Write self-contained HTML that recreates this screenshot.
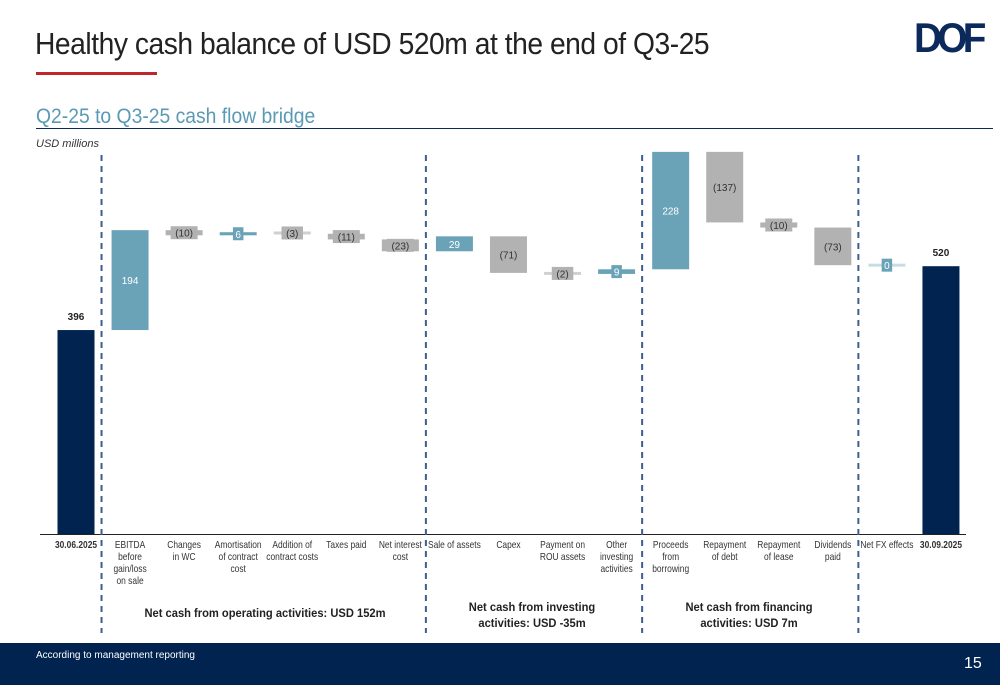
<!DOCTYPE html>
<html><head><meta charset="utf-8"><style>
body{margin:0;width:1000px;height:685px;background:#fff;overflow:hidden;font-family:"Liberation Sans",Arial,sans-serif;position:relative}
.t{position:absolute}
</style></head><body>
<div class="t" style="left:35px;top:26px;font-size:31px;color:#222;letter-spacing:-0.5px;transform:scaleX(0.91);transform-origin:left">Healthy cash balance of USD 520m at the end of Q3-25</div>
<div class="t" style="left:36px;top:72px;width:121px;height:3px;background:#c0272d"></div>
<div class="t" style="left:914px;top:14px;font-size:42px;font-weight:bold;color:#0b2a5b;letter-spacing:-5px;transform:scaleX(0.92);transform-origin:left">DOF</div>
<div class="t" style="left:36px;top:105px;font-size:21px;color:#5a9ab5;transform:scaleX(0.92);transform-origin:left">Q2-25 to Q3-25 cash flow bridge</div>
<div class="t" style="left:36px;top:128px;width:957px;height:1px;background:#0b2a5b"></div>
<div class="t" style="left:36px;top:138px;font-size:11px;font-style:italic;color:#333">USD millions</div>
<svg class="t" style="left:0;top:0" width="1000" height="685" id="chart"></svg>
<div class="t" style="left:0;top:643px;width:1000px;height:42px;background:#00234f"></div>
<div class="t" style="left:36px;top:650px;font-size:10px;color:#fff">According to management reporting</div>
<div class="t" style="left:964px;top:655px;font-size:16px;color:#fff">15</div>
<script>
const categories=[["30.06.2025"],["EBITDA","before","gain/loss","on sale"],["Changes","in WC"],["Amortisation","of contract","cost"],["Addition of","contract costs"],["Taxes paid"],["Net interest","cost"],["Sale of assets"],["Capex"],["Payment on","ROU assets"],["Other","investing","activities"],["Proceeds","from","borrowing"],["Repayment","of debt"],["Repayment","of lease"],["Dividends","paid"],["Net FX effects"],["30.09.2025"]];
const values=[396,194,-10,6,-3,-11,-23,29,-71,-2,9,228,-137,-10,-73,0,520];
const isTotal=[1,0,0,0,0,0,0,0,0,0,0,0,0,0,0,0,1];
const sections=[["Net cash from operating activities: USD 152m"],["Net cash from investing","activities: USD -35m"],["Net cash from financing","activities: USD 7m"]];
const sectionCenters=[265,532,749];
const dividerAfter=[0,6,10,14];
const svg=document.getElementById('chart');
const NS='http://www.w3.org/2000/svg';
const base=534,k=0.515,x0=76,step=54.06,bw=37;
const y=v=>base-v*k;
const xc=i=>x0+i*step;
function mk(tag,a,txt){const e=document.createElementNS(NS,tag);for(const n in a)e.setAttribute(n,a[n]);if(txt!==undefined)e.textContent=txt;svg.appendChild(e);return e;}
let ax=mk('line',{x1:40,x2:966,y1:base+0.5,y2:base+0.5,stroke:'#222','stroke-width':1});


dividerAfter.forEach(i=>{const xx=(xc(i)+xc(i+1))/2-1.5;
 const d=mk('line',{x1:xx,x2:xx,y1:155,y2:633,stroke:'#3d5f8f','stroke-width':2,'stroke-dasharray':'6,5'});
 
 });
const fmt=v=>v<0?'('+(-v)+')':''+v;
let cum=0;
values.forEach((v,i)=>{
 let top,bot;
 if(isTotal[i]){top=y(v);bot=base;cum=v;}
 else{const a=y(cum),b=y(cum+v);top=Math.min(a,b);bot=Math.max(a,b);cum+=v;}
 let h=bot-top;if(h<3){const m=(top+bot)/2;top=m-1.5;h=3;}
 const col=isTotal[i]?'#00234f':(v>=0?'#6aa3b8':'#b2b2b2');
 const light=(!isTotal[i]&&Math.abs(v)<=3)?(v>=0?'#c7dde6':'#d0d0d0'):col;
 const r=mk('rect',{x:xc(i)-bw/2,y:top,width:bw,height:h,fill:light});
 
 
 const cy=top+h/2;
 if(isTotal[i]){const t=mk('text',{x:xc(i),y:top-10,'text-anchor':'middle','font-size':10,'font-weight':'bold',fill:'#222'},String(v));
  
  }
 else{
  if(h<14){const bwid=fmt(v).length*5.5+5;mk('rect',{x:xc(i)-bwid/2,y:cy-6.5,width:bwid,height:13,fill:col});}
  const t=mk('text',{x:xc(i),y:cy+4,'text-anchor':'middle','font-size':10,fill:v>=0?'#fff':'#333'},fmt(v));
  
  }
 categories[i].forEach((ln,j)=>{const t=mk('text',{x:0,y:0,transform:'translate('+xc(i)+','+(548+j*12)+') scale(0.86,1)','text-anchor':'middle','font-size':9.8,fill:'#333','font-weight':isTotal[i]?'bold':'normal'},ln);
  
  });
});
sections.forEach((s,i)=>s.forEach((ln,j)=>{const t=mk('text',{x:0,y:0,transform:'translate('+sectionCenters[i]+','+((s.length==1?617:611)+j*16)+') scale(0.93,1)','text-anchor':'middle','font-size':12,'font-weight':'bold',fill:'#222'},ln);
 
 }));
</script>
</body></html>
